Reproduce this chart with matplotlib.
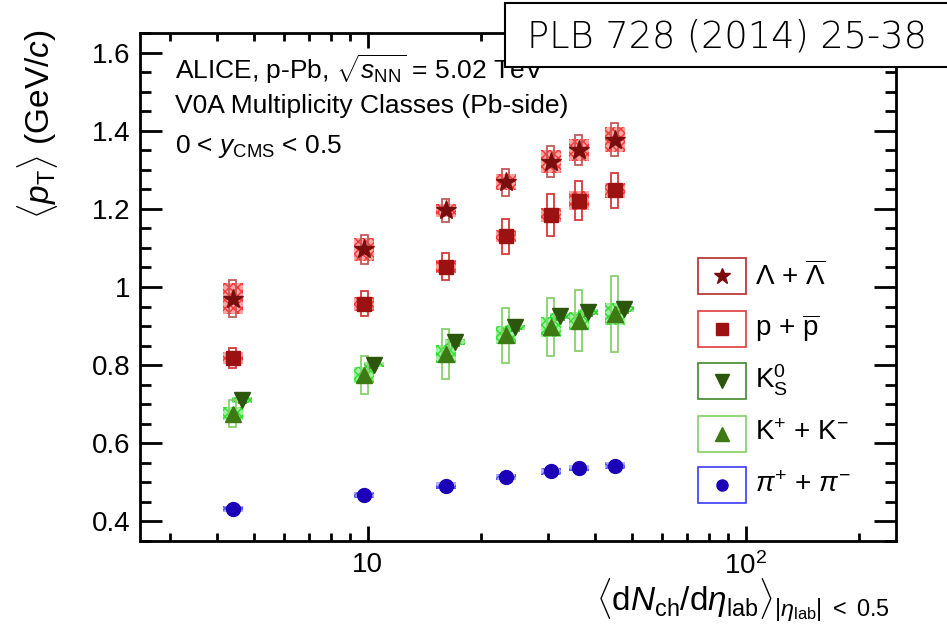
import matplotlib
matplotlib.use('Agg')
import matplotlib.pyplot as plt
from matplotlib.patches import Rectangle
from matplotlib.ticker import MultipleLocator, LogLocator, NullFormatter

# --- fonts (Helvetica-like, ROOT style) ---
plt.rcParams['font.family'] = ['Liberation Sans', 'DejaVu Sans']
plt.rcParams['mathtext.fontset'] = 'custom'
plt.rcParams['mathtext.rm'] = 'Liberation Sans'
plt.rcParams['mathtext.it'] = 'Liberation Sans:italic'
plt.rcParams['mathtext.bf'] = 'Liberation Sans:bold'
plt.rcParams['hatch.linewidth'] = 1.0

# --- data: <pT> vs <dNch/deta> ---
dndeta = [4.4, 9.8, 16.1, 23.2, 30.5, 36.2, 45.1]

lam = [0.970, 1.096, 1.196, 1.268, 1.321, 1.351, 1.377]
lam_sys_tot = [0.048, 0.037, 0.029, 0.034, 0.039, 0.038, 0.043]
lam_sys_unc = [0.040, 0.029, 0.016, 0.021, 0.030, 0.029, 0.032]

prot = [0.818, 0.957, 1.052, 1.130, 1.184, 1.221, 1.247]
prot_sys_tot = [0.025, 0.032, 0.035, 0.045, 0.054, 0.049, 0.044]
prot_sys_unc = [0.016, 0.018, 0.016, 0.016, 0.018, 0.025, 0.020]

k0s = [0.711, 0.801, 0.859, 0.897, 0.925, 0.936, 0.944]
k0s_sys_tot = [0.008, 0.008, 0.009, 0.009, 0.009, 0.009, 0.010]
k0s_sys_unc = [0.007, 0.007, 0.007, 0.007, 0.008, 0.008, 0.008]

kch = [0.676, 0.774, 0.829, 0.876, 0.897, 0.914, 0.931]
kch_sys_tot = [0.035, 0.049, 0.064, 0.070, 0.074, 0.079, 0.097]
kch_sys_unc = [0.017, 0.020, 0.023, 0.023, 0.025, 0.023, 0.028]

pion = [0.431, 0.468, 0.492, 0.513, 0.528, 0.536, 0.543]
pion_sys_tot = [0.006, 0.006, 0.006, 0.006, 0.006, 0.006, 0.006]
pion_sys_unc = [0.008, 0.008, 0.008, 0.008, 0.008, 0.008, 0.008]

labels = [r'$\Lambda$ + $\overline{\Lambda}$', r'p + $\overline{\rm p}$',
          r'K$^{0}_{\rm S}$', r'K$^{+}$ + K$^{-}$', r'$\pi^{+}$ + $\pi^{-}$']

# style per species: (values, tot, unc, marker, ms, marker colour, box colour, hatch colour, legend box colour, x shift)
species = [
    (lam, lam_sys_tot, lam_sys_unc, '*', 15, '#7a0d0d', '#c05a5a', '#ff1a1a', '#b52a2a', 1.0),
    (prot, prot_sys_tot, prot_sys_unc, 's', 10, '#9c1212', '#d83838', '#ff1a1a', '#e03a3a', 1.0),
    (k0s, k0s_sys_tot, k0s_sys_unc, 'v', 12, '#2b560c', '#4a8a2a', '#11cc11', '#3f8a2a', 1.06),
    (kch, kch_sys_tot, kch_sys_unc, '^', 12, '#3e7a14', '#88d070', '#11dd11', '#80d060', 1.0),
    (pion, pion_sys_tot, pion_sys_unc, 'o', 10, '#1c00b8', '#4a4aee', '#3a3aff', '#3a3aff', 1.0),
]

fig = plt.figure(figsize=(9.47, 6.42), dpi=100)
ax = fig.add_axes([140 / 947, 101 / 642, 756 / 947, 508 / 642])
ax.set_xscale('log')
ax.set_xlim(2.5, 250)
ax.set_ylim(0.35, 1.65)

wide = 1.063   # half-width factor of the hatched (uncorrelated) boxes
narrow = 1.021  # half-width factor of the open (total) boxes

for vals, tot, unc, mk, ms, mcol, bcol, hcol, lcol, shift in species:
    xs = [x * shift for x in dndeta]
    for x, y, et, eu in zip(xs, vals, tot, unc):
        ax.add_patch(Rectangle((x / wide, y - eu), x * wide - x / wide, 2 * eu,
                               facecolor=hcol, alpha=0.4, edgecolor='none', zorder=2))
        ax.add_patch(Rectangle((x / wide, y - eu), x * wide - x / wide, 2 * eu,
                               facecolor='none', edgecolor=hcol, hatch='xxxx', lw=0, alpha=0.8, zorder=2))
        ax.add_patch(Rectangle((x / narrow, y - et), x * narrow - x / narrow, 2 * et,
                               facecolor='none', edgecolor=bcol, lw=1.3, zorder=3))
    ax.plot(xs, vals, linestyle='none', marker=mk, ms=ms, color=mcol, mec=mcol, zorder=4)

# --- axes styling (ROOT look) ---
for sp in ax.spines.values():
    sp.set_linewidth(2)
ax.set_xticks([10, 100], labels=['10', r'$10^{2}$'])
ax.xaxis.set_minor_locator(LogLocator(base=10, subs=range(2, 10)))
ax.xaxis.set_minor_formatter(NullFormatter())
ax.yaxis.set_major_locator(MultipleLocator(0.2))
ax.yaxis.set_minor_locator(MultipleLocator(0.05))
ax.set_yticks([0.4, 0.6, 0.8, 1.0, 1.2, 1.4, 1.6], labels=['0.4', '0.6', '0.8', '1', '1.2', '1.4', '1.6'])
ax.tick_params(which='both', direction='in', top=True, right=True, width=2, labelsize=20)
ax.tick_params(axis='y', which='major', length=16, pad=7)
ax.tick_params(axis='y', which='minor', length=8)
ax.tick_params(axis='x', which='major', length=11, pad=8)
ax.tick_params(axis='x', which='minor', length=6)

# axis titles
fig.text(38 / 947, 1 - 30 / 642, r'$\langle p_{\rm T}\rangle$ (GeV/$c$)', rotation=90,
         ha='center', va='top', fontsize=24)
fig.text(890 / 947, 1 - 612 / 642,
         r'$\langle {\rm d}N_{\rm ch}/{\rm d}\eta_{\rm lab}\rangle_{|\eta_{\rm lab}|\ <\ 0.5}$',
         ha='right', va='baseline', fontsize=24)

# header texts
fig.text(175 / 947, 1 - 79 / 642, r'ALICE, p-Pb, $\sqrt{s_{\rm NN}}$ = 5.02 TeV', fontsize=19, va='baseline')
fig.text(175 / 947, 1 - 113 / 642, 'V0A Multiplicity Classes (Pb-side)', fontsize=19, va='baseline')
fig.text(175 / 947, 1 - 153 / 642, r'0 < $y_{\rm CMS}$ < 0.5', fontsize=19, va='baseline')

# --- legend drawn by hand: each entry in its own box ---
leg_y = [276, 328.5, 380.5, 433.5, 485]
for (vals, tot, unc, mk, ms, mcol, bcol, hcol, lcol, shift), lab, py in zip(species, labels, leg_y):
    ay = (541 - py) / 508
    ax.add_patch(Rectangle(((698 - 140) / 756, ay - 18 / 508), 48 / 756, 36 / 508,
                           transform=ax.transAxes, facecolor='white', edgecolor=lcol, lw=1.2, zorder=5))
    ax.plot([(722 - 140) / 756], [ay], transform=ax.transAxes, marker=mk, ms=ms * 0.8,
            color=mcol, linestyle='none', zorder=6)
    ax.text((755 - 140) / 756, ay, lab, transform=ax.transAxes, fontsize=20, va='center', ha='left', zorder=6)

# --- journal reference box ---
fig.patches.append(Rectangle((505 / 947, 1 - 67 / 642), 460 / 947, 64 / 642, transform=fig.transFigure,
                             facecolor='white', edgecolor='black', lw=1.5, zorder=10))
fig.text(527 / 947, 1 - 36 / 642, 'PLB 728 (2014) 25-38', fontsize=26.5, va='center', ha='left',
         family=['DejaVu Sans'], weight='light', zorder=11)

fig.savefig('out.png', dpi=100)
